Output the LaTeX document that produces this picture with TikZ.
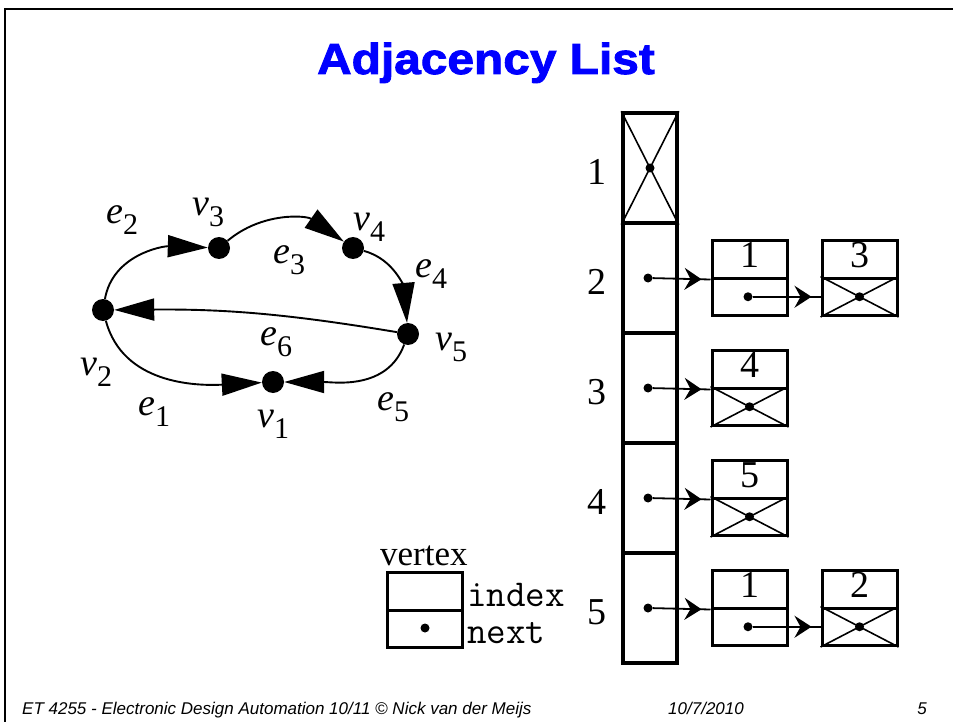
\documentclass[tikz,border=0pt]{standalone}
\usepackage{fontspec}
\setmainfont{Liberation Serif}
\newfontfamily\headfont{Liberation Sans}
\newfontfamily\titlefont[FakeStretch=1.1,FakeBold=2]{Liberation Sans Bold}
\usetikzlibrary{arrows.meta,decorations.markings}

% graph label: italic letter with an upright subscript
\newcommand\glabel[2]{{\fontsize{38}{38}\selectfont\itshape #1}\raisebox{-11pt}{\fontsize{30}{30}\selectfont #2}}

\tikzset{
  vtx/.style={circle,fill=black,inner sep=0pt,minimum size=22pt},
  gedge/.style={line width=1.9pt,-{Triangle[length=40pt,width=22pt]}},
  glab/.style={inner sep=0pt,anchor=base west},
  cellbox/.style={draw,line width=3.5pt,minimum width=54pt,minimum height=110pt,inner sep=0pt},
  idx/.style={inner sep=0pt,font=\fontsize{38}{38}\selectfont},
  half/.style={draw,line width=3pt,minimum width=75pt,minimum height=37.5pt,inner sep=0pt,
               text depth=8pt,font=\fontsize{38}{38}\selectfont},
  ptr/.style={circle,fill=black,inner sep=0pt,minimum size=9pt},
  xline/.style={line width=1.6pt},
  link/.style={line width=1.8pt,postaction={decorate},
    decoration={markings,mark=at position -9pt with {\arrow{Stealth[length=17pt,width=22pt,inset=6pt]}}}},
  foot/.style={inner sep=0pt,font=\headfont\itshape\fontsize{17}{17}\selectfont},
  field/.style={inner sep=0pt,anchor=base west,font=\ttfamily\fontsize{38}{38}\selectfont},
}

\begin{document}
\begin{tikzpicture}[x=1pt,y=1pt]
\useasboundingbox (0,0) rectangle (953,-722);

% slide frame
\draw[line width=2.5pt] (5,-722) -- (5,-9) -- (953,-9);

% title
\node[inner sep=0pt,anchor=base,text=blue,font=\titlefont\fontsize{43.5}{44}\selectfont]
  (title) at (486,-74) {Adjacency List};

% ---------- directed graph ----------
\node[vtx] (v1) at (273,-382) {};
\node[vtx] (v2) at (103,-310) {};
\node[vtx] (v3) at (219,-248) {};
\node[vtx] (v4) at (353,-248) {};
\node[vtx] (v5) at (408,-334) {};

\draw[gedge] (v2) to[out=80,in=178] (v3);
\draw[gedge] (v3) to[out=40,in=145] (v4);
\draw[gedge] (v4) to[out=-15,in=95] (v5);
\draw[gedge] (v5) to[bend right=5] (v2);
\draw[gedge] (v2) to[out=-75,in=183] (v1);
\draw[gedge] (v5) to[out=-110,in=0] (v1);

\node[glab] (le2) at (106,-223) {\glabel{e}{2}};
\node[glab] (lv3) at (192,-215) {\glabel{v}{3}};
\node[glab] (le3) at (273,-263) {\glabel{e}{3}};
\node[glab] (lv4) at (353,-230) {\glabel{v}{4}};
\node[glab] (le4) at (415,-277) {\glabel{e}{4}};
\node[glab] (lv5) at (435,-350) {\glabel{v}{5}};
\node[glab] (le6) at (260,-345) {\glabel{e}{6}};
\node[glab] (lv2) at (80,-375)  {\glabel{v}{2}};
\node[glab] (le1) at (138,-415) {\glabel{e}{1}};
\node[glab] (lv1) at (257,-427) {\glabel{v}{1}};
\node[glab] (le5) at (377,-410) {\glabel{e}{5}};

% ---------- vertex array ----------
\foreach \k/\Y in {1/168,2/278,3/388,4/498,5/608}{
  \node[cellbox] (c\k) at (650,-\Y) {};
  \node[idx] (i\k) at (597,-\Y-4) {\k};
}
\draw[xline] (c1.north west) -- (c1.south east) (c1.north east) -- (c1.south west);
\node[ptr] (d1) at (c1) {};
\foreach \k/\Y in {2/278,3/388,4/498,5/608}{
  \node[ptr] (d\k) at (648,-\Y) {};
}

% ---------- adjacency lists ----------
% row 2: 1 -> 3
\node[half] (l2a) at (749.5,-259.25) {1};
\node[half] (l2b) at (749.5,-296.75) {};
\node[half] (m2a) at (859.5,-259.25) {3};
\node[half] (m2b) at (859.5,-296.75) {};
% row 3: 4
\node[half] (l3a) at (749.5,-369.25) {4};
\node[half] (l3b) at (749.5,-406.75) {};
% row 4: 5
\node[half] (l4a) at (749.5,-479.25) {5};
\node[half] (l4b) at (749.5,-516.75) {};
% row 5: 1 -> 2
\node[half] (l5a) at (749.5,-589.25) {1};
\node[half] (l5b) at (749.5,-626.75) {};
\node[half] (m5a) at (859.5,-589.25) {2};
\node[half] (m5b) at (859.5,-626.75) {};

% empty next fields (nil)
\foreach \n in {m2b,l3b,l4b,m5b}{
  \draw[xline] (\n.north west) -- (\n.south east) (\n.north east) -- (\n.south west);
  \node[ptr] (z\n) at (\n) {};
}

% pointers
\draw[link] (d2) -- (l2a.south west);
\draw[link] (d3) -- (l3a.south west);
\draw[link] (d4) -- (l4a.south west);
\draw[link] (d5) -- (l5a.south west);
\node[ptr] (q2) at (748,-296.75) {};
\node[ptr] (q5) at (748,-626.75) {};
\draw[link] (q2) -- (m2b.west);
\draw[link] (q5) -- (m5b.west);

% ---------- legend ----------
\node[inner sep=0pt,anchor=base west,font=\fontsize{35}{35}\selectfont] (vt) at (380,-565) {vertex};
\node[half] (ga) at (424.5,-591.25) {};
\node[half] (gb) at (424.5,-628.75) {};
\node[ptr] (gp) at (425,-628) {};
\node[field] (gi) at (467,-606) {index};
\node[field] (gn) at (467,-643) {next};

% ---------- footer ----------
\node[foot,anchor=base west] (f1) at (22,-714) {ET 4255 - Electronic Design Automation 10/11 \textcopyright{} Nick van der Meijs};
\node[foot,anchor=base west] (f2) at (668,-714) {10/7/2010};
\node[foot,anchor=base east] (f3) at (927,-714) {5};
\end{tikzpicture}
\end{document}
